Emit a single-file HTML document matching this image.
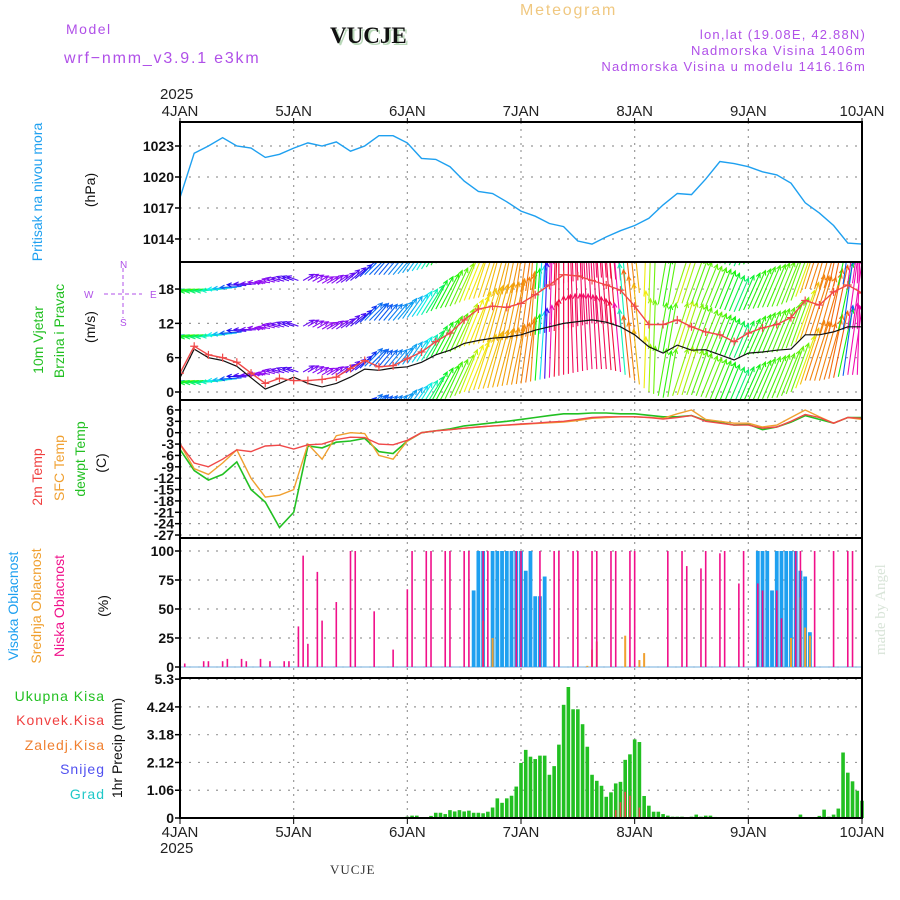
<!DOCTYPE html>
<html><head><meta charset="utf-8"><title>Meteogram VUCJE</title>
<style>
html,body{margin:0;padding:0;background:#fff;}
svg{display:block;font-family:"Liberation Sans",sans-serif;}
</style></head>
<body>
<svg id="chart" width="900" height="900" viewBox="0 0 900 900" xmlns="http://www.w3.org/2000/svg">
<rect x="0" y="0" width="900" height="900" fill="#fff"/>
<g>
<text x="66" y="34" font-size="14" fill="#b050e8" letter-spacing="1.5">Model</text>
<text x="64" y="63" font-size="16" fill="#b050e8" letter-spacing="1.8">wrf−nmm_v3.9.1 e3km</text>
<text x="332" y="45" font-family="Liberation Serif,serif" font-weight="bold" font-size="23" fill="#b8d8b8">VUCJE</text>
<text x="330" y="43" font-family="Liberation Serif,serif" font-weight="bold" font-size="23" fill="#111">VUCJE</text>
<text x="520" y="15" font-size="16" fill="#f0c880" letter-spacing="1.8">Meteogram</text>
<text x="866" y="39" font-size="13" fill="#b050e8" text-anchor="end" letter-spacing="1.2">lon,lat (19.08E, 42.88N)</text>
<text x="866" y="55" font-size="13" fill="#b050e8" text-anchor="end" letter-spacing="1.2">Nadmorska Visina 1406m</text>
<text x="866" y="71" font-size="13" fill="#b050e8" text-anchor="end" letter-spacing="1.2">Nadmorska Visina u modelu 1416.16m</text>
<text x="160" y="99" font-size="15" fill="#222">2025</text>
<text x="330" y="874" font-family="Liberation Serif,serif" font-size="13" fill="#333" letter-spacing="1">VUCJE</text>
<text transform="translate(885,655) rotate(-90)" font-family="Liberation Serif,serif" font-size="15" fill="#d8e4d8">made by Angel</text>
</g>
<g font-size="14">
<text transform="translate(42,192) rotate(-90)" text-anchor="middle" fill="#1ea0f0">Pritisak na nivou mora</text>
<text transform="translate(95,190) rotate(-90)" text-anchor="middle" fill="#111">(hPa)</text>
<text transform="translate(43,340) rotate(-90)" text-anchor="middle" fill="#22c022">10m Vjetar</text>
<text transform="translate(64,331) rotate(-90)" text-anchor="middle" fill="#22c022">Brzina i Pravac</text>
<text transform="translate(95,327) rotate(-90)" text-anchor="middle" fill="#111">(m/s)</text>
<g fill="#b050e8" stroke="#b050e8" font-size="10">
<line x1="104" y1="294" x2="142" y2="294" stroke-dasharray="4,3" fill="none"/>
<line x1="123" y1="268" x2="123" y2="318" stroke-dasharray="4,3" fill="none"/>
<text x="120" y="268" stroke="none">N</text><text x="120" y="326" stroke="none">S</text>
<text x="84" y="298" stroke="none">W</text><text x="150" y="298" stroke="none">E</text>
</g>
<text transform="translate(42,477) rotate(-90)" text-anchor="middle" fill="#f04040">2m Temp</text>
<text transform="translate(64,468) rotate(-90)" text-anchor="middle" fill="#f0a030">SFC Temp</text>
<text transform="translate(85,459) rotate(-90)" text-anchor="middle" fill="#22c022">dewpt Temp</text>
<text transform="translate(106,463) rotate(-90)" text-anchor="middle" fill="#111">(C)</text>
<text transform="translate(18,606) rotate(-90)" text-anchor="middle" fill="#1ea0f0">Visoka Oblacnost</text>
<text transform="translate(41,606) rotate(-90)" text-anchor="middle" fill="#f0a030">Srednja Oblacnost</text>
<text transform="translate(64,606) rotate(-90)" text-anchor="middle" fill="#f0108a">Niska Oblacnost</text>
<text transform="translate(108,606) rotate(-90)" text-anchor="middle" fill="#111">(%)</text>
<text x="105" y="701" text-anchor="end" fill="#22c022" letter-spacing="1">Ukupna Kisa</text>
<text x="105" y="725" text-anchor="end" fill="#f04040" letter-spacing="1">Konvek.Kisa</text>
<text x="105" y="750" text-anchor="end" fill="#f08030" letter-spacing="1">Zaledj.Kisa</text>
<text x="105" y="774" text-anchor="end" fill="#5050f0" letter-spacing="1">Snijeg</text>
<text x="105" y="799" text-anchor="end" fill="#20c8c8" letter-spacing="1">Grad</text>
<text transform="translate(122,748) rotate(-90)" text-anchor="middle" fill="#111">1hr Precip (mm)</text>
</g>
<g id="plots"></g>
</svg>
<script>
// ---- data (3-hourly unless stated) ----
const dayLabels = ["4JAN","5JAN","6JAN","7JAN","8JAN","9JAN","10JAN"];
const pressure = [1018,1022.3,1023,1023.8,1023,1022.8,1021.9,1022.2,1022.8,1023.3,1023,1023.4,1022.5,1023,1024,1024,1023.3,1021.8,1021.7,1021,1019.6,1018.6,1018.4,1017.6,1016.7,1016.2,1015.5,1015.2,1013.8,1013.5,1014.2,1014.8,1015.3,1016,1017.3,1018.4,1018.3,1019.8,1021.5,1021.3,1021,1020.5,1020.2,1019.4,1017.5,1016.5,1015.3,1013.6,1013.5];
const pressTicks = [1014,1017,1020,1023];
const windSpeed = [3.3,8,6.5,6,5.2,3.3,1.5,2.4,2,2,2.2,2.6,4.1,5.5,4.4,4.6,5.8,7,8.8,10.3,12.6,14.5,15,14.8,15.5,17,18.7,20.5,20.3,19.5,18.7,17.8,15,11.8,11.8,12.6,11.4,10.5,10,8.8,10.3,11.2,11.8,13,16,15.2,17.5,18.7,17.3];
const windGust = [2.5,7.5,6,5.5,4.5,2.5,0.5,1.5,2.6,1.5,0.9,1.5,2.6,4,3.8,4.2,4.4,5.2,6.5,7.3,8.5,9,9.4,9.6,10,10.8,11.4,12,12.3,12.6,12.2,11.4,10,7.9,6.8,8.2,7.3,7.4,6.5,5.6,6.8,7,7.3,7.5,10,10,10.5,11.4,11.4];
const windDir = [185,185,185,185,183,178,172,165,160,30,30,35,40,45,50,50,55,58,62,65,68,72,75,78,82,86,88,90,92,93,94,95,96,88,80,72,70,68,68,67,66,67,68,70,72,74,78,82,88];
const arrowBase = [2,2,2,2,2.3,2.8,3,3.3,3.5,3.5,3,3,3.5,4.5,4.5,4.5,5,5.5,6.5,7,8,8.5,8.8,9.2,9.5,10,10.5,11,11.5,12,12,11.5,10,8,7,7.5,7.5,7,6.5,6,6.5,6.8,7,8,10,10,10.5,11,11];
const windTicks = [0,6,12,18];
const temp2m = [-3,-8,-9,-7,-4.5,-5,-3.5,-3.3,-4.3,-3.2,-3,-1.8,-1.2,-1.3,-3,-3.2,-2,0,0.5,0.8,1.2,1.5,1.8,2,2.3,2.5,2.8,3,3.5,4,4.2,4.2,4.2,4,3.6,4,4.5,3,2.5,2,2,1.2,1.5,3,4.8,4,2.5,4,3.8];
const tempSfc = [-3,-9.5,-11,-8,-4.5,-12,-17,-16.5,-15,-3,-7,-0.8,0,-0.2,-6,-7,-2.2,0,0.5,0.8,1.2,1.5,1.8,2,2.2,2.4,2.6,2.8,3.2,3.8,4,4.2,4.2,4,3.8,5,6,3.5,3,2.5,2.5,1.5,2,4,6,4.2,2.5,4,3.5];
const tempDew = [-4.4,-10,-12.5,-11,-7.7,-15,-18.3,-25,-21,-3.5,-4,-2.5,-2.2,-1.5,-5,-5.5,-2.2,0,0.5,1,1.8,2.2,2.6,3,3.5,4,4.5,5,5,5.2,5.2,5,5,4.6,4.2,4.2,4.5,3.2,2.7,2,2.2,0.8,1.5,2.8,4.5,3.5,2.5,4,4];
const tempTicks = [6,3,0,-3,-6,-9,-12,-15,-18,-21,-24,-27];
// cloud cover: [hour, percent]
const cloudHigh = [[62,66],[63,100],[64,100],[66,100],[67,100],[68,100],[69,100],[70,100],[71,100],[72,100],[73,83],[74,100],[75,61],[76,61],[77,78],[122,100],[123,100],[124,100],[125,66],[126,100],[127,100],[128,100],[129,100],[130,100],[131,83],[132,78],[133,30]];
const cloudMid = [[64,40],[66,25],[86,1],[87,15],[88,22],[94,27],[97,6],[98,12],[129,25],[131,60],[132,34],[133,27]];
const cloudLow = [[1,3],[5,5],[6,5],[9,5],[10,7],[13,7],[14,5],[17,7],[19,5],[22,5],[23,5],[25,35],[26,96],[27,20],[29,82],[30,40],[33,56],[36,100],[37,100],[41,48],[45,15],[48,67],[49,100],[52,100],[53,100],[56,100],[57,100],[60,100],[61,100],[64,100],[65,100],[71,100],[72,100],[76,100],[79,100],[80,100],[83,100],[84,100],[87,100],[88,100],[91,100],[92,100],[95,100],[96,100],[103,100],[106,100],[107,87],[110,85],[111,100],[114,98],[115,100],[118,72],[119,100],[122,72],[123,66],[126,66],[127,42],[130,100],[131,100],[134,100],[138,100],[141,100],[142,100]];
const cloudTicks = [0,25,50,75,100];
// hourly precipitation h0..h144
const precipTotal = [0,0,0,0,0,0,0,0,0,0,0,0,0,0,0,0,0,0,0,0,0,0,0,0,0,0,0,0,0,0,0,0,0,0,0,0,0,0,0,0,0,0,0,0,0,0,0,0,
0.05,0.09,0.09,0.03,0,0.08,0.2,0.2,0.15,0.3,0.25,0.3,0.25,0.28,0.2,0.2,0.18,0.24,0.4,0.75,0.58,0.75,0.85,1.2,2.1,2.6,2.34,2.25,2.38,2.38,1.65,1.98,2.8,4.32,5.0,4.15,4.15,3.58,2.72,1.65,1.42,1.23,0.81,0.98,1.32,1.38,2.22,2.43,3.0,2.9,0.84,0.47,0.24,0.24,0.15,0.09,0.05,0.05,0.05,0,0.05,0.13,0.05,0.09,0.09,0.04,
0,0,0,0,0,0,0,0,0,0,0,0,0,0,0,0,0,0.13,0,0,0,0.08,0.32,0.05,0.13,0.36,2.5,1.73,1.4,1.04,0.66];
const precipConv = [[92,0.3],[93,0.6],[94,1.0],[95,0.85],[97,0.4]];
const precipTicks = ["0","1.06","2.12","3.18","4.24","5.3"];

// ---- geometry ----
const X0=180, X1=862, HOURS=144;
const P={press:[122,262],wind:[262,400],temp:[400,538],cloud:[538,678],precip:[678,818]};
const xH = h => X0 + (X1-X0)*h/HOURS;
const yPress = p => 146 + (1023-p)*10.33;
const yWind = v => 392 - v*5.72;
const yTemp = t => 432.7 - t*3.79;
const yCloud = c => 667 - c*1.16;
const yPrecip = m => 818 - m*26.2;
const NS="http://www.w3.org/2000/svg";
const root=document.getElementById('plots');
function el(tag,attrs,parent){const e=document.createElementNS(NS,tag);for(const k in attrs)e.setAttribute(k,attrs[k]);(parent||root).appendChild(e);return e;}
function grp(name){const g=el('g',{});


return g;}

const defs=el('defs',{});
for(const k in P){const cp=el('clipPath',{id:'clip-'+k},defs);el('rect',{x:X0,y:P[k][0],width:X1-X0,height:P[k][1]-P[k][0]},cp);}

const grid=grp('grid-lines');
for(let d=0;d<=6;d++){const x=xH(d*24);
 el('line',{x1:x,y1:122,x2:x,y2:818,stroke:'#999','stroke-dasharray':'2,5','stroke-width':1.2},grid);}
function hgrid(y){el('line',{x1:X0,y1:y,x2:X1,y2:y,stroke:'#999','stroke-dasharray':'2,7','stroke-width':1.2},grid);}
pressTicks.forEach(p=>hgrid(yPress(p)));
windTicks.forEach(v=>hgrid(yWind(v)));
tempTicks.forEach(t=>hgrid(yTemp(t)));
cloudTicks.forEach(c=>hgrid(yCloud(c)));
precipTicks.forEach(m=>hgrid(yPrecip(+m)));

function yTicks(name,vals,fy){const g=grp(name);
 vals.forEach(v=>{const y=fy(+v);
  const t=el('text',{x:X0-6,y:y+5,'text-anchor':'end','font-size':14,'font-weight':'bold',fill:'#111'},g);t.textContent=v;
  el('line',{x1:X0-5,y1:y,x2:X0,y2:y,stroke:'#000','stroke-width':1.5},g);});}
yTicks('pressure-y-ticks',pressTicks,yPress);
yTicks('wind-y-ticks',windTicks,yWind);
yTicks('temp-y-ticks',tempTicks,yTemp);
yTicks('cloud-y-ticks',cloudTicks,yCloud);
yTicks('precip-y-ticks',precipTicks,yPrecip);

function line(name,arr,fy,color,clip,w){
 const pts=arr.map((v,i)=>xH(i*3).toFixed(1)+','+fy(v).toFixed(1)).join(' ');
 const p=el('polyline',{points:pts,fill:'none',stroke:color,'stroke-width':w||1.4,'clip-path':'url(#clip-'+clip+')'});
 
 
 return p;}
line('pressure-line',pressure,yPress,'#1ea0f0','press');

// wind arrows (colour by gust value)
function hueFor(s){const st=[[1,275],[3,250],[4.5,195],[6,130],[7.5,95],[8.5,60],[9.5,40],[10.5,22],[11.5,350],[13,330]];
 if(s<=st[0][0])return st[0][1];
 for(let i=1;i<st.length;i++){if(s<=st[i][0]){const a=st[i-1],b=st[i],f=(s-a[0])/(b[0]-a[0]);return a[1]+(b[1]-a[1])*f;}}
 return st[st.length-1][1];}
function hsl2rgb(h){h=((h%360)+360)%360;const s=0.9,l=0.5,c=(1-Math.abs(2*l-1))*s,x=c*(1-Math.abs((h/60)%2-1)),m=l-c/2;
 let r,g,b;if(h<60){r=c;g=x;b=0;}else if(h<120){r=x;g=c;b=0;}else if(h<180){r=0;g=c;b=x;}else if(h<240){r=0;g=x;b=c;}else if(h<300){r=x;g=0;b=c;}else{r=c;g=0;b=x;}
 return 'rgb('+Math.round((r+m)*255)+','+Math.round((g+m)*255)+','+Math.round((b+m)*255)+')';}
function at(arr,h){const i=Math.min(Math.floor(h/3),arr.length-2),f=(h-i*3)/3;return arr[i]+(arr[i+1]-arr[i])*f;}
function near(arr,h){return arr[Math.min(arr.length-1,Math.round(h/3))];}
const arrows=grp('wind-arrows');arrows.setAttribute('clip-path','url(#clip-wind)');
for(let h=0;h<=HOURS;h++){
 const spd=at(windSpeed,h),gst=at(windGust,h),dir=near(windDir,h)*Math.PI/180,base=at(arrowBase,h);
 const L=5+spd*3.6, col=hsl2rgb(hueFor(gst));
 for(let k=-1;k<=2;k++){
  const x=xH(h),y=yWind(base+8*k);
  const tx=x+L*Math.cos(dir),ty=y-L*Math.sin(dir);
  const a1=dir+Math.PI-0.45,a2=dir+Math.PI+0.45;
  const path='M'+x.toFixed(1)+','+y.toFixed(1)+'L'+tx.toFixed(1)+','+ty.toFixed(1)+
   'M'+(tx+5*Math.cos(a1)).toFixed(1)+','+(ty-5*Math.sin(a1)).toFixed(1)+'L'+tx.toFixed(1)+','+ty.toFixed(1)+'L'+(tx+5*Math.cos(a2)).toFixed(1)+','+(ty-5*Math.sin(a2)).toFixed(1);
  const a=el('path',{d:path,stroke:col,'stroke-width':1.1,fill:'none'},arrows);
  
  
 }}
line('wind-gust-line',windGust,yWind,'#111','wind',1.2);
line('wind-speed-line',windSpeed,yWind,'#f04848','wind',1.4);
const marks=grp('wind-speed-markers');marks.setAttribute('clip-path','url(#clip-wind)');
windSpeed.forEach((v,i)=>{const x=xH(i*3),y=yWind(v);
 el('path',{d:'M'+(x-4)+','+y+'H'+(x+4)+'M'+x+','+(y-4)+'V'+(y+4),stroke:'#f04848','stroke-width':1.2},marks);});

line('temp-dewpoint-line',tempDew,yTemp,'#22c022','temp',1.6);
line('temp-sfc-line',tempSfc,yTemp,'#f0a030','temp',1.4);
line('temp-2m-line',temp2m,yTemp,'#f04848','temp',1.4);

const cg=grp('cloud-bars');
el('line',{x1:X0,y1:yCloud(0),x2:X1,y2:yCloud(0),stroke:'#a0c8e8','stroke-width':1.5},cg);
function bars(list,w,color,name,fy,parent){list.forEach(([h,v])=>{const y=fy(v);
 const r=el('rect',{x:xH(h)-w/2,y:y,width:w,height:fy(0)-y,fill:color},parent);
 
 });}
bars(cloudHigh,3.8,'#1ea0f0','high-cloud-bar',yCloud,cg);
bars(cloudMid,2,'#f0a030','mid-cloud-bar',yCloud,cg);
bars(cloudLow,1.6,'#f0108a','low-cloud-bar',yCloud,cg);

const pg=grp('precip-bars');
bars(precipTotal.map((v,h)=>[h,v]).filter(d=>d[1]>0),3.6,'#22c022','total-precip-bar',yPrecip,pg);
bars(precipConv,1.6,'#f04848','convective-precip-bar',yPrecip,pg);

const fr=grp('panel-frames');
for(const k in P){el('rect',{x:X0,y:P[k][0],width:X1-X0,height:P[k][1]-P[k][0],fill:'none',stroke:'#000','stroke-width':2},fr);}
el('line',{x1:X0,y1:P.precip[0],x2:X1,y2:P.precip[0],stroke:'#000','stroke-width':2,'stroke-dasharray':'6,3'},fr);

const xt=grp('x-axis-labels');
dayLabels.forEach((d,i)=>{const x=xH(i*24);
 const t1=el('text',{x:x,y:116,'text-anchor':'middle','font-size':15,fill:'#222'},xt);t1.textContent=d;
 const t2=el('text',{x:x,y:837,'text-anchor':'middle','font-size':15,fill:'#222'},xt);t2.textContent=d;
 el('line',{x1:x,y1:118,x2:x,y2:122,stroke:'#000'},xt);
 el('line',{x1:x,y1:818,x2:x,y2:824,stroke:'#000'},xt);});
const yb=el('text',{x:160,y:853,'font-size':15,fill:'#222'},xt);yb.textContent='2025';
</script>
</body></html>
